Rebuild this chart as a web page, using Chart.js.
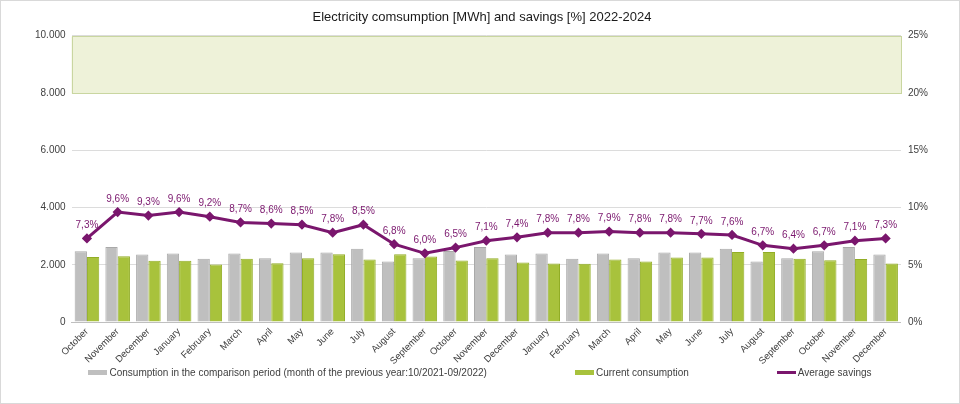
<!DOCTYPE html>
<html>
<head>
<meta charset="utf-8">
<script src="https://cdn.jsdelivr.net/npm/chart.js@4/dist/chart.umd.min.js"></script>
<style>
  html, body { margin: 0; padding: 0; background: #fff; }
  #frame {
    position: relative; width: 960px; height: 404px; box-sizing: border-box;
    border: 1px solid #d9d9d9; background: #fff; overflow: hidden;
    font-family: "Liberation Sans", Arial, sans-serif;
  }
  #chart-wrap { position: absolute; left: 0; top: 0; width: 958px; height: 370px; }
  #legend {
    position: absolute; left: 0; top: 366px; width: 958px;
    display: flex; justify-content: center; gap: 88px;
    font-size: 10px; color: #404040; white-space: nowrap;
  }
  .item { display: flex; align-items: center; }
  .swatch { display: inline-block; width: 19px; height: 5px; margin-right: 2px; }
</style>
</head>
<body>
<div id="frame">
  <div id="chart-wrap"><canvas id="c"></canvas></div>
  <div id="legend"></div>
</div>
<script>
// months Oct 2022 .. Dec 2024
var months = ['October', 'November', 'December',
  'January', 'February', 'March', 'April', 'May', 'June', 'July', 'August', 'September', 'October', 'November', 'December',
  'January', 'February', 'March', 'April', 'May', 'June', 'July', 'August', 'September', 'October', 'November', 'December'];

// MWh, previous-year month (10/2021-09/2022)
var comparisonConsumption = [2470, 2620, 2355, 2390, 2210, 2390, 2230, 2425, 2425, 2560, 2115, 2230,
  2480, 2620, 2355, 2390, 2210, 2390, 2230, 2425, 2425, 2560, 2115, 2230, 2470, 2620, 2355];
// MWh, current
var currentConsumption = [2275, 2300, 2140, 2140, 2010, 2210, 2055, 2230, 2365, 2185, 2365, 2285,
  2150, 2230, 2080, 2045, 2035, 2185, 2115, 2250, 2250, 2450, 2450, 2210, 2160, 2200, 2045];
// %
var averageSavings = [7.3, 9.6, 9.3, 9.6, 9.2, 8.7, 8.6, 8.5, 7.8, 8.5, 6.8, 6.0, 6.5, 7.1, 7.4,
  7.8, 7.8, 7.9, 7.8, 7.8, 7.7, 7.6, 6.7, 6.4, 6.7, 7.1, 7.3];

var seriesLabels = ['Consumption in the comparison period (month of the previous year:10/2021-09/2022)',
  'Current consumption', 'Average savings'];

// shaded target band on the left axis (MWh)
var bandFrom = 8000;
var bandTo = 10000;

var GRAY = '#bfbfbf', GREEN = '#a8c23c', PURPLE = '#7a166d';
var TXT = '#404040';

function fmtThousands(v) {
  return String(v).replace(/\B(?=(\d{3})+(?!\d))/g, '.');
}

// light green band between 8.000 and 10.000
var bandPlugin = {
  id: 'band',
  beforeDatasetsDraw: function (chart) {
    var ys = chart.scales.y, area = chart.chartArea, ctx = chart.ctx;
    var top = Math.round(ys.getPixelForValue(bandTo)) + 0.5;
    var bot = Math.round(ys.getPixelForValue(bandFrom)) + 0.5;
    ctx.save();
    ctx.fillStyle = '#eef2d9';
    ctx.fillRect(area.left, top, area.right - area.left, bot - top);
    ctx.strokeStyle = '#c9d6a0';
    ctx.lineWidth = 1;
    ctx.strokeRect(Math.round(area.left) + 0.5, top, Math.round(area.right - area.left), bot - top);
    ctx.restore();
  }
};

// percentage labels above the savings line
var valueLabels = {
  id: 'valueLabels',
  afterDatasetsDraw: function (chart) {
    var ctx = chart.ctx;
    var meta = chart.getDatasetMeta(2);
    ctx.save();
    ctx.font = '10px "Liberation Sans", Arial, sans-serif';
    ctx.fillStyle = PURPLE;
    ctx.textAlign = 'center';
    ctx.textBaseline = 'bottom';
    meta.data.forEach(function (pt, i) {
      var txt = averageSavings[i].toFixed(1).replace('.', ',') + '%';
      ctx.fillText(txt, pt.x, pt.y - 8);
    });
    ctx.restore();
  }
};

Chart.defaults.font.family = '"Liberation Sans", Arial, sans-serif';
Chart.defaults.color = TXT;

new Chart(document.getElementById('c').getContext('2d'), {
  type: 'bar',
  data: {
    labels: months,
    datasets: [
      { label: seriesLabels[0], data: comparisonConsumption, backgroundColor: GRAY,
        borderColor: '#a9a9a9', borderWidth: 1, yAxisID: 'y', order: 1,
        categoryPercentage: 0.8, barPercentage: 1.0 },
      { label: seriesLabels[1], data: currentConsumption, backgroundColor: GREEN,
        borderColor: '#92ad26', borderWidth: 1, yAxisID: 'y', order: 1,
        categoryPercentage: 0.8, barPercentage: 1.0 },
      { type: 'line', label: seriesLabels[2], data: averageSavings, yAxisID: 'y1', order: 0,
        borderColor: PURPLE, backgroundColor: PURPLE, borderWidth: 3,
        pointStyle: 'rectRot', pointRadius: 3, pointBackgroundColor: PURPLE,
        pointBorderColor: PURPLE, tension: 0 }
    ]
  },
  options: {
    responsive: true, maintainAspectRatio: false, animation: false,
    layout: { padding: { left: 28, right: 24, top: 4, bottom: 0 } },
    plugins: {
      legend: { display: false },
      tooltip: { enabled: false },
      title: { display: true, text: 'Electricity comsumption [MWh] and savings [%] 2022-2024',
        color: '#1a1a1a', font: { size: 13, weight: 'normal' }, padding: { top: 5, bottom: 10 } }
    },
    scales: {
      x: {
        grid: { display: false, drawTicks: false },
        border: { color: '#bfbfbf' },
        ticks: { maxRotation: 45, minRotation: 45, autoSkip: false, font: { size: 9.5 }, padding: 4 }
      },
      y: {
        position: 'left', min: 0, max: 10000,
        ticks: { stepSize: 2000, font: { size: 10 }, padding: 6, callback: function (v) { return fmtThousands(v); } },
        grid: { color: '#dcdcdc', drawTicks: false },
        border: { display: false }
      },
      y1: {
        position: 'right', min: 0, max: 25,
        ticks: { stepSize: 5, font: { size: 10 }, padding: 7, callback: function (v) { return v + '%'; } },
        grid: { display: false, drawTicks: false },
        border: { display: false }
      }
    }
  },
  plugins: [bandPlugin, valueLabels]
});

// legend row below the canvas
var legendColors = [GRAY, GREEN, PURPLE];
var legendEl = document.getElementById('legend');
seriesLabels.forEach(function (txt, i) {
  var item = document.createElement('span');
  item.className = 'item';
  var sw = document.createElement('span');
  sw.className = 'swatch';
  sw.style.background = legendColors[i];
  if (i === 2) { sw.style.height = '3px'; }
  item.appendChild(sw);
  item.appendChild(document.createTextNode(txt));
  legendEl.appendChild(item);
});
</script>
</body>
</html>
